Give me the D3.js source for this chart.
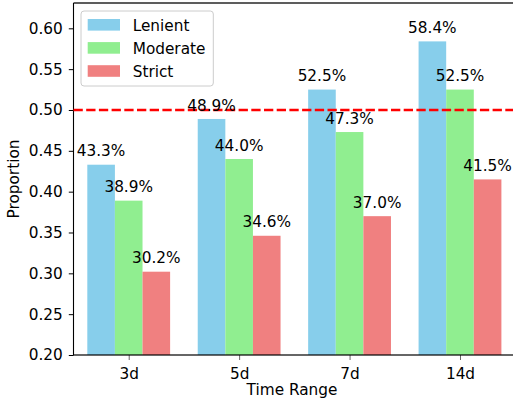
<!DOCTYPE html>
<html><head><meta charset="utf-8">
<script src="https://cdn.jsdelivr.net/npm/d3@7"></script>
<style>body{margin:0;background:#fff}text{font-family:"DejaVu Sans",sans-serif;fill:#000}</style>
</head><body><svg id="c" width="513" height="400"></svg>
<script>
const categories = ["3d", "5d", "7d", "14d"];
const seriesNames = ["Lenient", "Moderate", "Strict"];
const lenient = [0.433, 0.489, 0.525, 0.584];
const moderate = [0.389, 0.440, 0.473, 0.525];
const strict = [0.302, 0.346, 0.370, 0.415];
const yTicks = [0.20, 0.25, 0.30, 0.35, 0.40, 0.45, 0.50, 0.55, 0.60];
const threshold = 0.5;
const colors = ["#87CEEB", "#90EE90", "#F08080"];
const seriesValues = [lenient, moderate, strict];

const svg = d3.select("#c");
const L = 73.5, R = 515.2, T = 3, B = 355;
const FS = 15.3;
const x = d3.scaleLinear().domain([-0.5, categories.length - 0.5]).range([L, R]);
const y = d3.scaleLinear().domain([0.2, 0.631]).range([B, T]);
const bw = 0.25;

// bars
seriesValues.forEach((vals, s) => {
  svg.append("g").selectAll("rect").data(vals).join("rect")
    .attr("x", (d, i) => x(i + (s - 1) * bw - bw / 2))
    .attr("width", (d, i) => x(i + (s - 1) * bw + bw / 2) - x(i + (s - 1) * bw - bw / 2))
    .attr("y", d => y(d))
    .attr("height", d => y(0.2) - y(d))
    .attr("fill", colors[s]);
});

// y axis
const ya = svg.append("g").attr("transform", `translate(${L},0)`)
  .call(d3.axisLeft(y).tickValues(yTicks).tickFormat(d3.format(".2f")).tickSize(4.7).tickPadding(6));
ya.select(".domain").remove();
ya.selectAll("line").attr("stroke", "#000").attr("stroke-width", 1);
ya.selectAll("text").attr("font-size", FS).attr("font-family", "DejaVu Sans").attr("fill", "#000");

// x axis
const xa = svg.append("g").attr("transform", `translate(0,${B})`)
  .call(d3.axisBottom(x).tickValues(d3.range(categories.length)).tickFormat(i => categories[i]).tickSize(5).tickPadding(5));
xa.select(".domain").remove();
xa.selectAll("line").attr("stroke", "#000").attr("stroke-width", 1).attr("stroke-opacity", 0.6);
xa.selectAll("text").attr("font-size", FS).attr("font-family", "DejaVu Sans").attr("fill", "#000").attr("dy", "0.9em");

// spines
svg.append("line").attr("x1", L).attr("x2", L).attr("y1", T).attr("y2", B).attr("stroke", "#000").attr("stroke-width", 1.1);
svg.append("line").attr("x1", L).attr("x2", R).attr("y1", T).attr("y2", T).attr("stroke", "#000").attr("stroke-width", 1.6).attr("stroke-opacity", 0.85);
svg.append("line").attr("x1", L - 0.5).attr("x2", R).attr("y1", B).attr("y2", B).attr("stroke", "#000").attr("stroke-width", 2).attr("stroke-opacity", 0.6);

// threshold line
svg.append("line").attr("x1", L).attr("x2", R).attr("y1", y(threshold)).attr("y2", y(threshold))
  .attr("stroke", "#ff0000").attr("stroke-width", 2.5).attr("stroke-dasharray", "9.3,3.4");

// value labels
seriesValues.forEach((vals, s) => {
  svg.append("g").selectAll("text").data(vals).join("text")
    .attr("x", (d, i) => x(i + (s - 1) * bw))
    .attr("y", d => y(d) - 8.3)
    .attr("text-anchor", "middle")
    .attr("font-size", FS)
    .text(d => (d * 100).toFixed(1) + "%");
});

// axis titles
svg.append("text").attr("x", 292).attr("y", 395).attr("text-anchor", "middle").attr("font-size", FS).text("Time Range");
svg.append("text").attr("transform", `translate(19,${(T + B) / 2}) rotate(-90)`).attr("text-anchor", "middle").attr("font-size", FS).text("Proportion");

// legend
const lg = svg.append("g");
lg.append("rect").attr("x", 81).attr("y", 11).attr("width", 132.3).attr("height", 75).attr("rx", 3)
  .attr("fill", "#fff").attr("fill-opacity", 0.8).attr("stroke", "#cccccc").attr("stroke-width", 1);
seriesNames.forEach((n, s) => {
  const yy = 19 + s * 23.1;
  lg.append("rect").attr("x", 87.7).attr("y", yy).attr("width", 32.3).attr("height", 11.6).attr("fill", colors[s]);
  lg.append("text").attr("x", 132.7).attr("y", yy + 11.6).attr("font-size", FS).text(n);
});
</script></body></html>
